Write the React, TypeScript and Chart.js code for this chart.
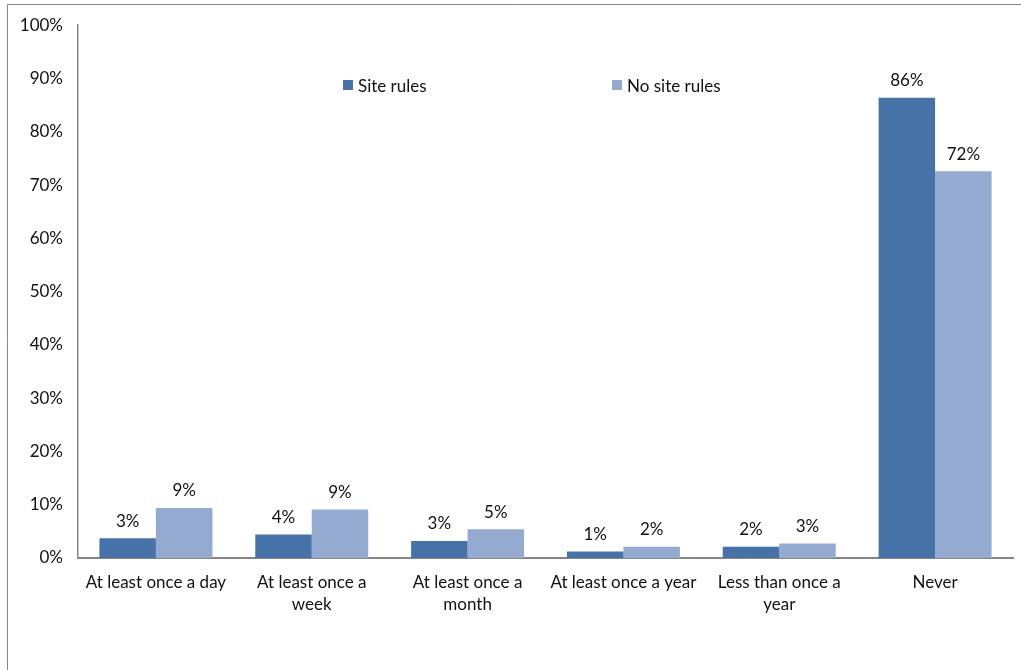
import React, { useEffect, useRef } from "react";
import { Chart, registerables } from "chart.js";

Chart.register(...registerables);

const categories: (string | string[])[] = [
  "At least once a day",
  ["At least once a", "week"],
  ["At least once a", "month"],
  "At least once a year",
  ["Less than once a", "year"],
  "Never",
];
const seriesNames = ["Site rules", "No site rules"];
const siteRules = [3.7, 4.4, 3.2, 1.2, 2.1, 86.4];
const noSiteRules = [9.4, 9.1, 5.4, 2.1, 2.7, 72.6];
const siteRulesLabels = ["3%", "4%", "3%", "1%", "2%", "86%"];
const noSiteRulesLabels = ["9%", "9%", "5%", "2%", "3%", "72%"];
const yTicks = [0, 10, 20, 30, 40, 50, 60, 70, 80, 90, 100];

const DARK = "#4672A7";
const LIGHT = "#95AAD1";
const AXIS = "#868686";
const FONT = "Lato, 'Open Sans', sans-serif";
const FS = 17;

export default function App() {
  const ref = useRef<HTMLCanvasElement | null>(null);
  useEffect(() => {
    if (!ref.current) return;
    const labelSets = [siteRulesLabels, noSiteRulesLabels];
    const extras = {
      id: "extras",
      afterDraw(chart: any) {
        const ctx = chart.ctx;
        ctx.save();
        // outer frame
        ctx.strokeStyle = AXIS;
        ctx.lineWidth = 1;
        ctx.beginPath();
        ctx.moveTo(7.5, 670);
        ctx.lineTo(7.5, 4.5);
        ctx.lineTo(1021, 4.5);
        ctx.stroke();
        // data labels
        ctx.fillStyle = "#111";
        ctx.font = `${FS}px ${FONT}`;
        ctx.textAlign = "center";
        ctx.textBaseline = "middle";
        chart.data.datasets.forEach((ds: any, di: number) => {
          const meta = chart.getDatasetMeta(di);
          meta.data.forEach((bar: any, i: number) => {
            ctx.fillText(labelSets[di][i], bar.x, bar.y - 17);
          });
        });
        // legend
        const items = [
          { x: 343, color: DARK, text: seriesNames[0] },
          { x: 612, color: LIGHT, text: seriesNames[1] },
        ];
        ctx.textAlign = "left";
        ctx.textBaseline = "middle";
        items.forEach((it) => {
          ctx.fillStyle = it.color;
          ctx.fillRect(it.x, 80, 10, 10);
          ctx.fillStyle = "#111";
          ctx.fillText(it.text, it.x + 15, 87);
        });
        ctx.restore();
      },
    };
    const chart = new Chart(ref.current, {
      type: "bar",
      data: {
        labels: categories,
        datasets: [
          {
            label: seriesNames[0],
            data: siteRules,
            backgroundColor: DARK,
            borderWidth: 0,
            categoryPercentage: 0.725,
            barPercentage: 1,
          },
          {
            label: seriesNames[1],
            data: noSiteRules,
            backgroundColor: LIGHT,
            borderWidth: 0,
            categoryPercentage: 0.725,
            barPercentage: 1,
          },
        ],
      },
      options: {
        animation: false,
        responsive: false,
        maintainAspectRatio: false,
        layout: { padding: { top: 25, right: 8, bottom: 0, left: 0 } },
        plugins: {
          legend: { display: false },
          tooltip: { enabled: false },
          title: { display: false },
        },
        scales: {
          x: {
            grid: { display: false, drawTicks: false },
            border: { color: AXIS, width: 2 },
            ticks: {
              color: "#111",
              font: { family: FONT, size: FS, lineHeight: 1.3 },
              padding: 13,
              maxRotation: 0,
              autoSkip: false,
            },
            afterFit(scale: any) {
              scale.height = 112;
            },
          },
          y: {
            min: 0,
            max: 100,
            afterBuildTicks(scale: any) {
              scale.ticks = yTicks.map((v) => ({ value: v }));
            },
            grid: { display: false, drawTicks: false },
            border: { color: AXIS, width: 1.5 },
            ticks: {
              color: "#111",
              font: { family: FONT, size: FS },
              padding: 15,
              callback: (v: any) => `${v}%`,
            },
            afterFit(scale: any) {
              scale.width = 78;
            },
          },
        },
      },
      plugins: [extras],
    });
    return () => chart.destroy();
  }, []);
  return (
    <div style={{ position: "absolute", left: 0, top: 0, width: 1021, height: 670, background: "#fff" }}>
      <canvas ref={ref} width={1021} height={670} style={{ display: "block" }} />
    </div>
  );
}
